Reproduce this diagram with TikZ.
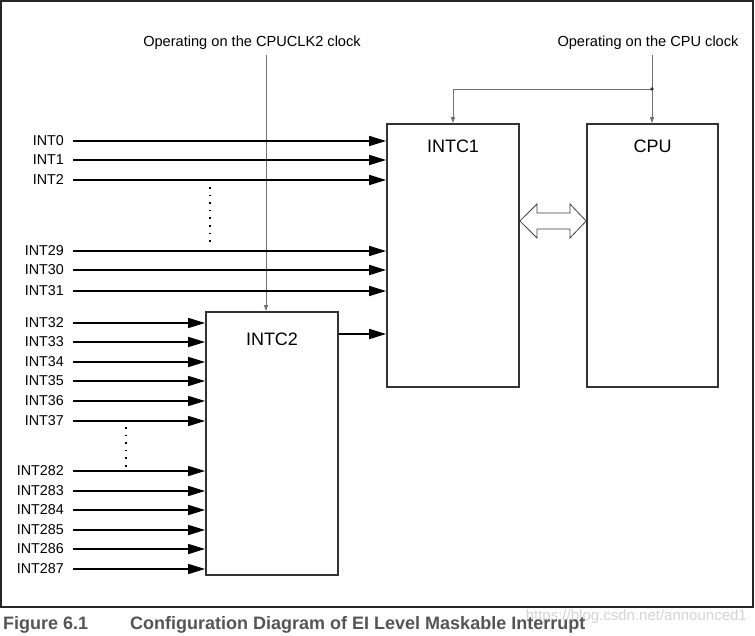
\documentclass[tikz,border=0pt]{standalone}
\usepackage{fontspec}
\setmainfont{Liberation Sans}
\usetikzlibrary{arrows.meta}
\definecolor{boxline}{HTML}{333333}
\definecolor{clkline}{HTML}{707070}
\definecolor{captxt}{HTML}{555555}
\definecolor{wmark}{HTML}{D4D4D4}
\tikzset{
  blk/.style={draw=boxline, line width=1.8pt, rectangle, inner sep=0pt},
  blktitle/.style={font=\fontsize{18}{20}\selectfont, inner sep=0pt},
  inlab/.style={font=\fontsize{14.3}{16}\selectfont, anchor=east, inner sep=0pt},
  sig/.style={line width=1.7pt, -{Triangle[length=17pt,width=10pt]}, shorten <=9pt},
  clk/.style={draw=clkline, line width=0.8pt, -{Triangle[length=6pt,width=4pt]}},
  clklab/.style={font=\fontsize{14.6}{16}\selectfont, inner sep=0pt},
  dotv/.style={line width=1.6pt, dash pattern=on 1.6pt off 6pt, line cap=butt},
}
\begin{document}
\begin{tikzpicture}[x=1pt,y=-1pt]
\useasboundingbox (0,0) rectangle (755,636);
% frame
\draw[line width=1.4pt, draw=black!85] (1,1) rectangle (753,607);
% blocks
\node[blk, minimum width=132pt, minimum height=263pt] (intc1) at (453,255.5) {};
\node[blk, minimum width=131pt, minimum height=263pt] (cpu) at (652.5,255.5) {};
\node[blk, minimum width=132pt, minimum height=263pt] (intc2) at (272,443.5) {};
\node[blktitle] (t1) at (453,146) {INTC1};
\node[blktitle] (t2) at (652.5,146) {CPU};
\node[blktitle] (t3) at (272,339) {INTC2};
% clock labels
\node[clklab] (ck2) at (252,43) {Operating on the CPUCLK2 clock};
\node[clklab] (ck1) at (648,43) {Operating on the CPU clock};
\coordinate (ck2s) at (266,55);
\coordinate (ck1s) at (652,55);
\coordinate (jn) at (652,89);
\coordinate (jl) at (453,89);
\draw[clk] (ck2s) -- (ck2s |- intc2.north);
\draw[clk] (ck1s) -- (ck1s |- cpu.north);
\draw[clk] (jn) -- (jl) -- (jl |- intc1.north);
\fill[black!80] (jn) circle (1.8pt);
% inputs to INTC1
\foreach \n/\y in {0/141,1/160,2/180,29/251,30/270,31/291}{
  \node[inlab] (in\n) at (64,\y) {INT\n};
  \draw[sig] (in\n.east) -- (in\n.east -| intc1.west);
}
% inputs to INTC2
\foreach \n/\y in {32/323,33/342,34/362,35/381,36/401,37/421,282/471,283/491,284/510,285/530,286/549,287/569}{
  \node[inlab] (in\n) at (64,\y) {INT\n};
  \draw[sig] (in\n.east) -- (in\n.east -| intc2.west);
}
% INTC2 -> INTC1
\coordinate (o2) at (338,334);
\draw[line width=1.7pt, -{Triangle[length=17pt,width=10pt]}] (o2 -| intc2.east) -- (o2 -| intc1.west);
% dotted ellipses
\draw[dotv] (210,187) -- (210,242);
\draw[dotv] (126,427) -- (126,470);
% double arrow
\draw[draw=black!75, line width=0.8pt, fill=white]
  (intc1.east |- 0,221) -- (537,204) -- (537,213) -- (570,213) -- (570,204)
  -- (cpu.west |- 0,221) -- (570,238) -- (570,229) -- (537,229) -- (537,238) -- cycle;
% caption
\node[anchor=east, inner sep=0pt, text=wmark, font=\fontsize{15}{17}\selectfont] (wm) at (747,617) {https://blog.csdn.net/announced1};
\node[anchor=west, inner sep=0pt, text=captxt, font=\bfseries\fontsize{18}{20}\selectfont] (cap1) at (3,625) {Figure 6.1};
\node[anchor=west, inner sep=0pt, text=captxt, font=\bfseries\fontsize{18}{20}\selectfont] (cap2) at (130,625) {Configuration Diagram of EI Level Maskable Interrupt};
\end{tikzpicture}
\end{document}
